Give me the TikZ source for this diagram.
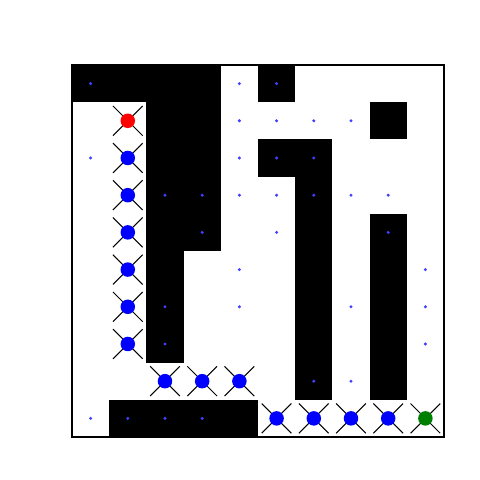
\documentclass[tikz,border=0pt]{standalone}
\usepackage{xcolor}
\usepackage{tikz}
\usetikzlibrary{shapes.misc}

\definecolor{mplgreen}{HTML}{008000}

\begin{document}
\begin{tikzpicture}[
  x=1cm, y=1cm,
  wall/.style={fill=black},
  frame/.style={draw=black, line width=0.8pt},
  seen/.style={circle, fill=blue!75, inner sep=0pt, minimum size=0.09cm},
  xmark/.style={cross out, draw=black, line width=0.8pt, inner sep=0pt, minimum size=0.77cm},
  pt/.style={circle, inner sep=0pt, minimum size=0.39cm}
]
\useasboundingbox (-1.935,-1.156) rectangle (10.968,11.747);

% obstacles
\fill[wall] (0,9) rectangle (4,10);
\fill[wall] (5,9) rectangle (6,10);
\fill[wall] (2,5) rectangle (4,9);
\fill[wall] (2,2) rectangle (3,5);
\fill[wall] (8,8) rectangle (9,9);
\fill[wall] (5,7) rectangle (7,8);
\fill[wall] (6,1) rectangle (7,7);
\fill[wall] (8,1) rectangle (9,6);
\fill[wall] (1,0) rectangle (5,1);

\draw[frame] (0,0) rectangle (10,10);

% visited cells
\foreach \c/\r in {0/0,4/0,5/0,4/1,5/1,6/1,7/1,0/2,4/2,5/2,6/2,
                   2/3,3/3,4/3,5/3,6/3,7/3,8/3,3/4,5/4,8/4,4/5,9/5,
                   2/6,4/6,7/6,9/6,2/7,9/7,6/8,7/8,0/9,1/9,2/9,3/9}
  \node[seen] (v-\c-\r) at (\c+0.5,9.5-\r) {};

% path
\foreach \c/\r [count=\i] in {1/1,1/2,1/3,1/4,1/5,1/6,1/7,2/8,3/8,4/8,
                              5/9,6/9,7/9,8/9,9/9}
  \node[xmark] (x\i) at (\c+0.5,9.5-\r) {};

\node[pt, fill=red] (p1) at (x1) {};
\foreach \i in {2,...,14}
  \node[pt, fill=blue] (p\i) at (x\i) {};
\node[pt, fill=mplgreen] (p15) at (x15) {};
\end{tikzpicture}
\end{document}
